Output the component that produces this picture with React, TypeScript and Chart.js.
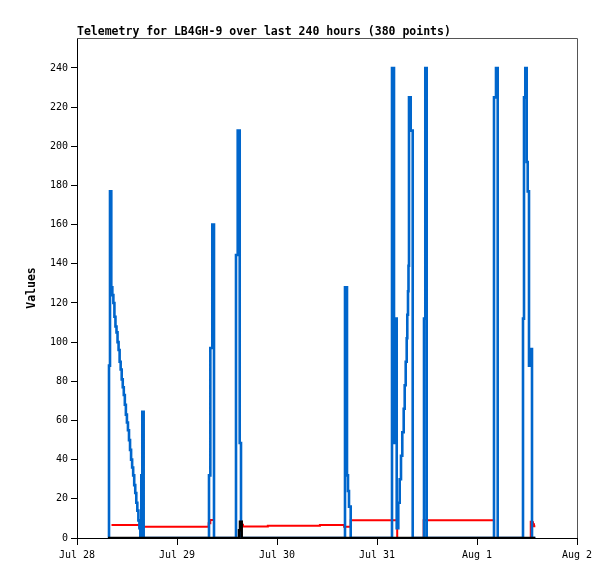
import { useEffect, useRef } from "react";
import { Chart, registerables } from "chart.js";

Chart.register(...registerables);

const chartTitle = "Telemetry for LB4GH-9 over last 240 hours (380 points)";
const yAxisTitle = "Values";
const xTickLabels = ["Jul 28", "Jul 29", "Jul 30", "Jul 31", "Aug 1", "Aug 2"];

// hours since Jul 28 00:00, each value holds until the next sample
const blueHours = [
  7.56, 7.68, 7.92, 8.23, 8.48, 8.73, 8.98, 9.23, 9.48, 9.73, 9.98, 10.23, 10.48,
  10.73, 10.98, 11.23, 11.48, 11.73, 11.98, 12.23, 12.48, 12.73, 12.98, 13.23,
  13.48, 13.73, 13.98, 14.23, 14.48, 14.73, 14.98, 15.2, 15.43, 15.67, 16.0,
  31.68, 32.0, 32.47, 32.88,
  38.16, 38.57, 39.05, 39.36,
  64.32, 64.8, 65.04, 65.28, 65.69,
  75.6, 76.08, 76.32, 76.73, 77.11, 77.45, 77.76, 78.07, 78.41, 78.65, 78.89,
  79.13, 79.27, 79.44, 79.56, 79.68, 80.09, 80.57,
  83.28, 83.59, 83.93,
  100.08, 100.56, 100.97,
  107.04, 107.28, 107.59, 107.93, 108.17, 108.48, 108.72, 109.2, 110.0,
];
const blueValues = [
  0, 88, 177, 128, 124, 120, 113, 108, 105, 100, 96, 90, 86,
  81, 77, 73, 68, 63, 59, 55, 50, 45, 40, 36,
  32, 27, 23, 18, 14, 9, 5, 0, 32, 64.5, 0,
  32, 97, 160, 0,
  144.5, 208, 48.5, 0,
  128, 32, 24, 16, 0,
  240, 48.5, 112, 5, 18, 30, 42, 54, 66, 78, 90,
  102, 114, 126, 139, 225, 208, 0,
  112, 240, 0,
  225, 240, 0,
  112, 225, 240, 192, 177, 88, 96.5, 0, 0,
];

const redHours = [
  8.28, 15.0, 31.6, 32.0, 32.88, 39.2, 39.55, 39.84, 45.8, 58.3, 64.1, 65.7,
  76.85, 83.2, 100.1, 108.9, 109.2, 109.44, 109.68, 110.0,
];
const redValues = [
  6.6, 5.8, 7.5, 9.2, 0, 8.3, 6.8, 5.9, 6.3, 6.6, 5.8, 9,
  0, 9, 0, 8.3, 8, 7, 6, 6,
];

const blackHours = [7.44, 38.88, 39.12, 39.53, 110.0];
const blackValues = [0, 4, 8.3, 0, 0];

const toPoints = (xs: number[], ys: number[]) => xs.map((x, i) => ({ x, y: ys[i] }));

const monoFont = "'DejaVu Sans Mono', 'Liberation Mono', monospace";

const titlePlugin = {
  id: "plotTitle",
  afterDraw(chart: any) {
    const { ctx, chartArea } = chart;
    ctx.save();
    ctx.font = `bold 11.5px ${monoFont}`;
    ctx.fillStyle = "#000";
    ctx.textAlign = "left";
    ctx.textBaseline = "alphabetic";
    ctx.fillText(chartTitle, chartArea.left, chartArea.top - 3);
    ctx.restore();
  },
};

const framePlugin = {
  id: "plotFrame",
  afterDraw(chart: any) {
    const { ctx, chartArea } = chart;
    const { left, right, top, bottom } = chartArea;
    ctx.save();
    ctx.strokeStyle = "#555555";
    ctx.lineWidth = 1;
    ctx.beginPath();
    ctx.moveTo(left, top + 0.5);
    ctx.lineTo(right + 0.5, top + 0.5);
    ctx.lineTo(right + 0.5, bottom);
    ctx.stroke();
    ctx.restore();
  },
};

export default function App() {
  const canvasRef = useRef<HTMLCanvasElement | null>(null);

  useEffect(() => {
    const ctx = canvasRef.current?.getContext("2d");
    if (!ctx) return;

    const line = (data: any, color: string, width: number) => ({
      data,
      borderColor: color,
      borderWidth: width,
      pointRadius: 0,
      stepped: "before" as const,
      tension: 0,
      fill: false,
      borderJoinStyle: "miter" as const,
      borderCapStyle: "butt" as const,
    });

    const chart = new Chart(ctx, {
      type: "line",
      data: {
        datasets: [
          line(toPoints(blackHours, blackValues), "#000000", 2.5),
          line(toPoints(blueHours, blueValues), "#0066cc", 2.6),
          line(toPoints(redHours, redValues), "#ff0000", 2),
        ],
      },
      options: {
        animation: false,
        responsive: false,
        layout: { padding: { top: 38, right: 38, left: 0, bottom: 0 } },
        plugins: {
          legend: { display: false },
          tooltip: { enabled: false },
        },
        scales: {
          x: {
            type: "linear",
            min: 0,
            max: 120,
            afterFit: (s: any) => {
              s.height = 41;
            },
            grid: { drawOnChartArea: false, color: "#000", tickLength: 7 },
            border: { color: "#000", width: 1 },
            ticks: {
              stepSize: 24,
              autoSkip: false,
              maxRotation: 0,
              padding: 4,
              color: "#000",
              font: { family: monoFont, size: 10 },
              callback: (v: any) => xTickLabels[Math.round(Number(v) / 24)] ?? "",
            },
          },
          y: {
            min: 0,
            max: 255.3,
            afterFit: (s: any) => {
              s.width = 77;
            },
            grid: { drawOnChartArea: false, color: "#000", tickLength: 6 },
            border: { color: "#000", width: 1 },
            title: {
              display: true,
              text: yAxisTitle,
              color: "#000",
              font: { family: monoFont, size: 11.5, weight: "bold" },
              padding: { top: 25, bottom: 0 },
            },
            ticks: {
              stepSize: 20,
              includeBounds: false,
              padding: 3,
              color: "#000",
              font: { family: monoFont, size: 10 },
            },
          },
        },
      },
      plugins: [titlePlugin, framePlugin],
    });

    return () => {
      chart.destroy();
    };
  }, []);

  return (
    <div style={{ position: "absolute", left: 0, top: 0, width: 615, height: 579, background: "#fff" }}>
      <canvas ref={canvasRef} width={615} height={579} style={{ display: "block" }} />
    </div>
  );
}
